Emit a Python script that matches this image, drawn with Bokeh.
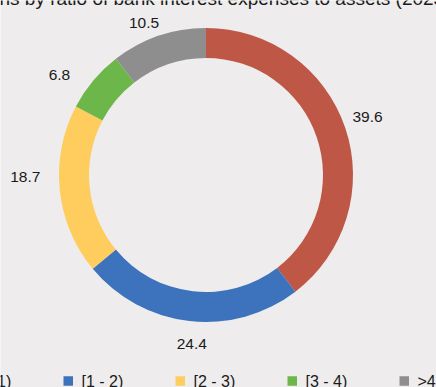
import math
from bokeh.plotting import figure
from bokeh.models import Range1d, ColumnDataSource
from bokeh.core.properties import value
from bokeh.embed import file_html
from bokeh.resources import INLINE

# ---- data ----
categories = ["[0 - 1)", "[1 - 2)", "[2 - 3)", "[3 - 4)", ">4"]
shares = [39.6, 24.4, 18.7, 6.8, 10.5]
title_prefix = "Distribution of loa"
title_suffix = "ns by ratio of bank interest expenses to assets (2023)"

# ---- styles / layout ----
colors = ["#BE5746", "#3C73BC", "#FFCC5E", "#6DB64A", "#8E8E8E"]
label_nudge_x = [-1.4, 5.2, -9.6, -14.7, -6.3]
label_nudge_y = [-2.6, -1.7, -16.0, 10.5, 11.2]   # screen px, down positive
bg = "#EEECEC"
W, H = 436, 387
cx, cy = 205.5, H - 174.5
r_out, r_in, r_lab = 147, 117, 172
FONT = value("Liberation Sans")

p = figure(width=W, height=H, x_range=Range1d(0, W), y_range=Range1d(0, H),
           output_backend="svg", toolbar_location=None, min_border=0)
p.axis.visible = False
p.grid.visible = False
p.outline_line_color = None
p.background_fill_color = bg
p.border_fill_color = bg

total = sum(shares)
starts, ends, mids = [], [], []
cum = 0.0
for s in shares:
    f0 = cum / total
    cum += s
    f1 = cum / total
    starts.append(math.pi / 2 - 2 * math.pi * f0)
    ends.append(math.pi / 2 - 2 * math.pi * f1)
    mids.append(math.pi / 2 - 2 * math.pi * (f0 + f1) / 2)

src = ColumnDataSource(dict(start=starts, end=ends, color=colors,
                            x=[cx] * len(shares), y=[cy] * len(shares)))
p.annular_wedge(x="x", y="y", inner_radius=r_in, outer_radius=r_out,
                start_angle="start", end_angle="end", direction="clock",
                fill_color="color", line_color=None, source=src)

lx = [cx + r_lab * math.cos(m) + dx for m, dx in zip(mids, label_nudge_x)]
ly = [cy + r_lab * math.sin(m) - dy for m, dy in zip(mids, label_nudge_y)]
p.text(x=lx, y=ly, text=[f"{v:.1f}" for v in shares], text_align="center",
       text_baseline="middle", text_font=FONT, text_font_size=value("15.5px"),
       text_color="#1a1a1a")

# legend (manual, horizontal)
leg_x0, leg_step = -49, 112
sq = 9.5
sx = [leg_x0 + i * leg_step + sq / 2 for i in range(len(categories))]
p.rect(x=sx, y=[H - 380.5] * len(categories), width=sq, height=sq,
       fill_color=colors, line_color=None)
p.text(x=[leg_x0 + i * leg_step + 18 for i in range(len(categories))],
       y=[H - 380.5] * len(categories), text=categories, text_align="left",
       text_baseline="middle", text_font=FONT, text_font_size=value("16px"),
       text_color="#1a1a1a")

# title (partially outside the visible area)
p.text(x=[-1], y=[H + 2], text=[title_prefix], text_align="right",
       text_baseline="middle", text_font=FONT, text_font_size=value("19px"),
       text_color="#1a1a1a")
p.text(x=[-1], y=[H + 2], text=[title_suffix], text_align="left",
       text_baseline="middle", text_font=FONT, text_font_size=value("19px"),
       text_color="#1a1a1a")

open("out.html", "w").write(file_html(p, INLINE))
